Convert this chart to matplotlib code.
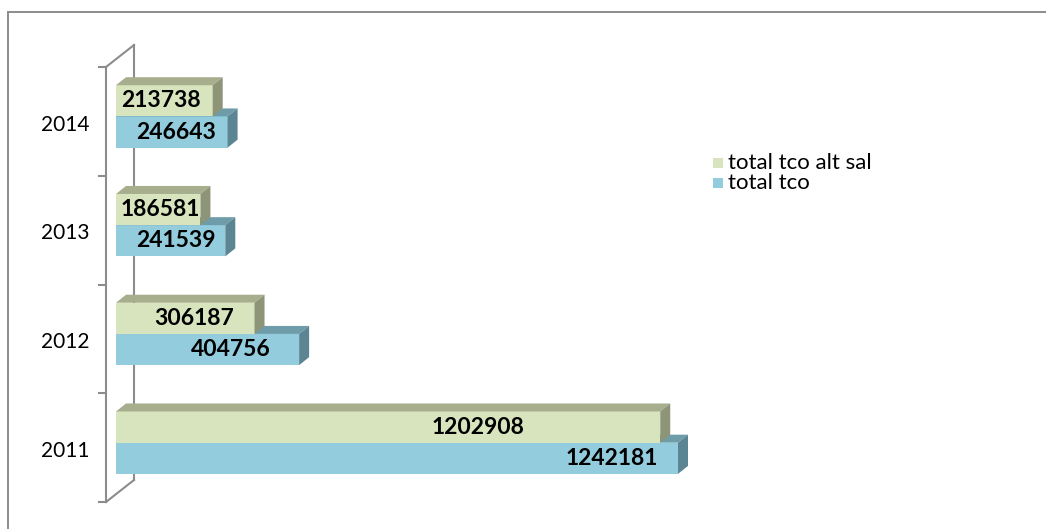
import matplotlib
matplotlib.use('Agg')
import matplotlib.pyplot as plt
from matplotlib.patches import Polygon, Rectangle
from matplotlib.lines import Line2D

plt.rcParams['font.family'] = ['Lato', 'DejaVu Sans']

# 데이터 (아래에서 위로: 2011 -> 2014)
years = ['2011', '2012', '2013', '2014']
total_tco = [1242181, 404756, 241539, 246643]
total_tco_alt_sal = [1202908, 306187, 186581, 213738]
series_names = ['total tco alt sal', 'total tco']

# 라벨 위치 (막대 길이 대비 비율)
lbl_frac_alt = [0.665, 0.565, 0.52, 0.46]
lbl_frac_tco = [0.883, 0.628, 0.55, 0.535]

# 색상
green = ('#D7E4BD', '#A6AE8D', '#8D9477')   # front, top, side
blue = ('#93CDDD', '#6E9CA9', '#5B8592')
axis_col = '#8C8C8C'

W, H = 1046, 529
fig = plt.figure(figsize=(W / 100, H / 100), dpi=100)
ax = fig.add_axes([0, 0, 1, 1])
ax.axis('off')

# 픽셀 -> 데이터 변환
s = (678 - 116) / max(total_tco)      # px per value
cat_px = 108.75                       # px per category
x0_px, y0_px = 116, 502
ax.set_xlim(-x0_px / s, (W - x0_px) / s)
ax.set_ylim((y0_px - H) / cat_px - 0.5, y0_px / cat_px - 0.5)

def px_x(p):
    return p / s

def px_y(p):
    return p / cat_px

dx, dy = px_x(10), px_y(8)
h = 0.287


def bar3d(y, v, cols):
    front, top, side = cols
    b = y - h / 2
    t = y + h / 2
    ax.barh(y, v, height=h, left=0, color=front, linewidth=0, zorder=3)
    ax.add_patch(Polygon([(0, t), (v, t), (v + dx, t + dy), (dx, t + dy)],
                         closed=True, facecolor=top, edgecolor='none', zorder=3))
    ax.add_patch(Polygon([(v, b), (v, t), (v + dx, t + dy), (v + dx, b + dy)],
                         closed=True, facecolor=side, edgecolor='none', zorder=3))


for i, yr in enumerate(years):
    yb = i - 0.098
    yg = i + 0.189
    bar3d(yb, total_tco[i], blue)
    bar3d(yg, total_tco_alt_sal[i], green)
    ax.text(total_tco[i] * lbl_frac_tco[i], yb, str(total_tco[i]), ha='center', va='center',
            fontsize=16.5, fontweight='bold', color='black', zorder=4)
    ax.text(total_tco_alt_sal[i] * lbl_frac_alt[i], yg, str(total_tco_alt_sal[i]),
            ha='center', va='center', fontsize=16.5, fontweight='bold', color='black', zorder=4)
    ax.text(px_x(65 - 116), i - 0.03, yr, ha='center', va='center', fontsize=15, color='black')

# 3D 축 (앞쪽 선, 뒤쪽 선, 연결선, 눈금)
xf = px_x(106 - 116)
xb = px_x(134 - 116)
ddy = px_y(22)
lo, hi = -0.5, len(years) - 0.5
ax.plot([xf, xf], [lo, hi], color=axis_col, lw=1.5, zorder=1)
ax.plot([xb, xb], [lo + ddy, hi + ddy], color=axis_col, lw=1.5, zorder=1)
ax.plot([xf, xb], [hi, hi + ddy], color=axis_col, lw=1.5, zorder=1)
ax.plot([xf, xb], [lo, lo + ddy], color=axis_col, lw=1.5, zorder=1)
for k in range(len(years) + 1):
    ax.plot([xf - px_x(7), xf], [lo + k, lo + k], color=axis_col, lw=1.5, zorder=1)

# 범례 (직접 그림)
for j, (name, col) in enumerate(zip(series_names, [green[0], blue[0]])):
    yc = 1 - (163 + 20 * j) / H
    fig.add_artist(Rectangle((713 / W, yc - 5 / H), 10 / W, 10 / H, transform=fig.transFigure,
                             facecolor=col, edgecolor='none'))
    fig.text(728 / W, yc, name, ha='left', va='center', fontsize=16, color='black')

# 테두리
fig.add_artist(Line2D([8 / W, 1], [1 - 12 / H, 1 - 12 / H], color=axis_col, lw=1.4))
fig.add_artist(Line2D([8 / W, 8 / W], [0, 1 - 12 / H], color=axis_col, lw=1.4))

fig.savefig('out.png', dpi=100)
